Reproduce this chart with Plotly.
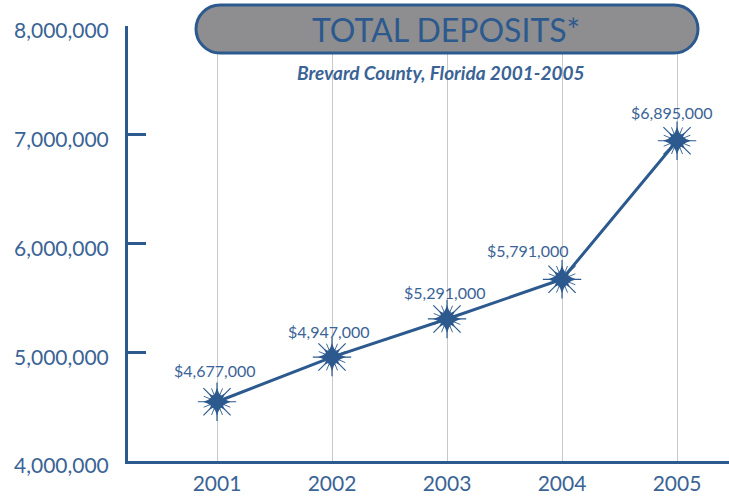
import plotly.graph_objects as go

# ---- data ----
years = [2001, 2002, 2003, 2004, 2005]
deposits = [4545000, 4956000, 5306000, 5671000, 6945000]   # plotted positions
labels = ["$4,677,000", "$4,947,000", "$5,291,000", "$5,791,000", "$6,895,000"]
y_ticks = [4000000, 5000000, 6000000, 7000000, 8000000]
y_tick_text = ["4,000,000", "5,000,000", "6,000,000", "7,000,000", "8,000,000"]
title_text = "TOTAL DEPOSITS*"
subtitle_text = "Brevard County, Florida 2001-2005"

BLUE = "#2d5a8e"
TXT = "#3a6396"
FONT = "Lato, 'Open Sans', sans-serif"

# label offsets (pixels) relative to each point
label_dx = [-2, -3, -2, -34, -5]
label_dy = [31, 26, 26, 29, 28]

fig = go.Figure()

fig.add_trace(go.Scatter(
    x=years, y=deposits, mode="lines",
    line=dict(color=BLUE, width=3), hoverinfo="skip", showlegend=False))

# star-burst markers built from layered shapes
for sym, size, ang, lw in [("asterisk-open", 32, 0, 1.2), ("asterisk-open", 24, 22.5, 0.9),
                           ("star-diamond", 20, 0, 0), ("star-diamond", 16, 45, 0),
                           ("circle", 7, 0, 0)]:
    fig.add_trace(go.Scatter(
        x=years, y=deposits, mode="markers",
        marker=dict(symbol=sym, size=size, angle=ang, color=BLUE,
                    line=dict(width=lw, color=BLUE)),
        hoverinfo="skip", showlegend=False))

for x, y, t, dx, dy in zip(years, deposits, labels, label_dx, label_dy):
    fig.add_annotation(x=x, y=y, text=t, showarrow=False, xshift=dx, yshift=dy,
                       font=dict(family=FONT, size=16, color=TXT))

# title pill (pixel-sized path anchored in paper coords)
W, H, R = 251, 24, 24
k = 0.5523 * R
path = (f"M {-W+R},{H} L {W-R},{H} "
        f"C {W-R+k},{H} {W},{k} {W},0 "
        f"C {W},{-k} {W-R+k},{-H} {W-R},{-H} "
        f"L {-W+R},{-H} "
        f"C {-W+R-k},{-H} {-W},{-k} {-W},0 "
        f"C {-W},{k} {-W+R-k},{H} {-W+R},{H} Z")

plot_left, plot_right, plot_top, plot_bottom = 128, 729, 26, 461
pw = plot_right - plot_left
ph = plot_bottom - plot_top
cx = (447 - plot_left) / pw
cy = (plot_bottom - 29) / ph

fig.add_shape(type="path", path=path, xref="paper", yref="paper",
              xsizemode="pixel", ysizemode="pixel", xanchor=cx, yanchor=cy,
              fillcolor="#8e8e90", line=dict(color=BLUE, width=3), layer="above")

fig.add_annotation(x=(446 - plot_left) / pw, y=(plot_bottom - 29) / ph,
                   xref="paper", yref="paper", text=title_text, showarrow=False,
                   font=dict(family=FONT, size=32, color=BLUE),
                   xanchor="center", yanchor="middle")
fig.add_annotation(x=(441 - plot_left) / pw, y=(plot_bottom - 72) / ph,
                   xref="paper", yref="paper", text="<b><i>" + subtitle_text + "</i></b>",
                   showarrow=False, font=dict(family=FONT, size=19, color=TXT),
                   xanchor="center", yanchor="middle")

fig.update_layout(
    width=729, height=496,
    margin=dict(l=plot_left, r=0, t=plot_top, b=496 - plot_bottom, autoexpand=False),
    paper_bgcolor="white", plot_bgcolor="white",
    showlegend=False,
    xaxis=dict(range=[2000.226, 2005.452], tickvals=years, ticktext=[str(y) for y in years],
               showgrid=True, gridcolor="#c8c8c8", gridwidth=1, zeroline=False,
               showline=True, linecolor=BLUE, linewidth=3, ticks="",
               ticklabelstandoff=2, automargin=False,
               tickfont=dict(family=FONT, size=21, color=TXT)),
    yaxis=dict(range=[4000000, 8000000], tickvals=y_ticks, ticktext=y_tick_text,
               showgrid=False, zeroline=False, showline=True, linecolor=BLUE, linewidth=3,
               ticks="inside", ticklen=18, tickwidth=3, tickcolor=BLUE,
               ticklabelstandoff=12, ticklabelshift=5, automargin=False,
               tickfont=dict(family=FONT, size=21, color=TXT)),
)

fig.write_html("out.html", config={"displayModeBar": False},
               post_script="document.body.style.margin='0';document.body.style.overflow='hidden';")
